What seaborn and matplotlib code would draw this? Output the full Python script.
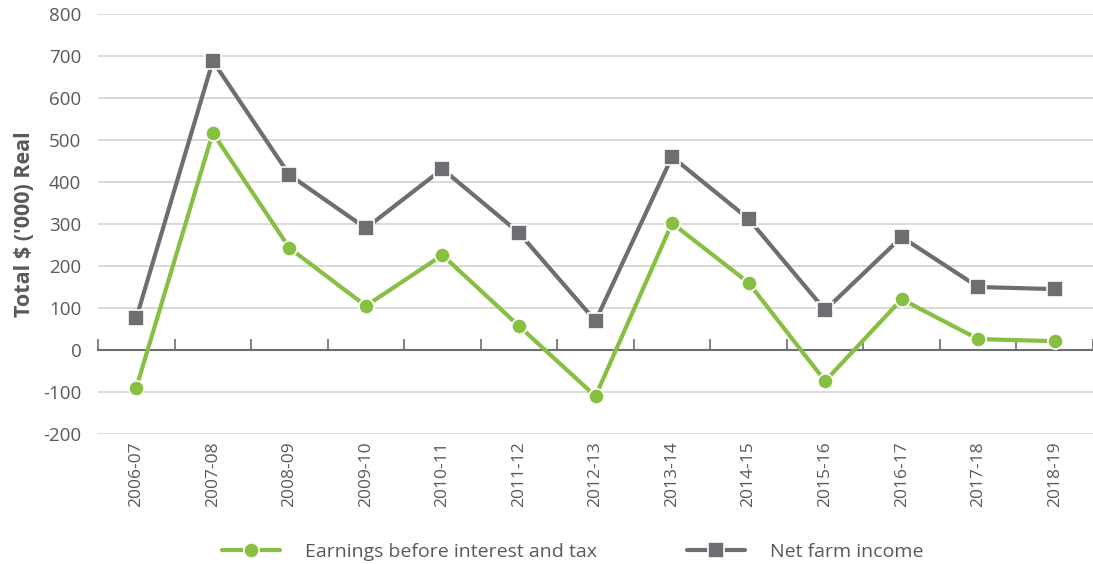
import matplotlib
matplotlib.use("Agg")
import matplotlib.pyplot as plt
import numpy as np
import pandas as pd
import seaborn as sns

# Financial years
years = ["2006-07", "2007-08", "2008-09", "2009-10", "2010-11", "2011-12", "2012-13",
         "2013-14", "2014-15", "2015-16", "2016-17", "2017-18", "2018-19"]

# Total $ ('000) real
ebit = [-90, 517, 243, 105, 226, 57, -110, 302, 160, -74, 121, 26, 21]
net_farm_income = [76, 688, 417, 290, 431, 279, 69, 460, 312, 95, 269, 150, 145]

ebit_label = "Earnings before interest and tax"
nfi_label = "Net farm income"
y_ticks = [-200, -100, 0, 100, 200, 300, 400, 500, 600, 700, 800]

df = pd.concat([
    pd.DataFrame({"year": years, "value": ebit, "series": ebit_label}),
    pd.DataFrame({"year": years, "value": net_farm_income, "series": nfi_label}),
])

sns.set_theme(style="white")
plt.rcParams["font.family"] = ["Open Sans", "DejaVu Sans"]
plt.rcParams["axes.unicode_minus"] = False

GREEN = "#86bf41"
GREY = "#6d6e71"
TEXT = "#58595b"

fig = plt.figure(figsize=(10.93, 5.64), dpi=100)
ax = fig.add_axes([98 / 1093, 1 - 434 / 564, 1 - 98 / 1093, (434 - 14) / 564])

sns.lineplot(
    data=df, x="year", y="value", hue="series", style="series",
    hue_order=[ebit_label, nfi_label], style_order=[ebit_label, nfi_label],
    palette={ebit_label: GREEN, nfi_label: GREY},
    markers={ebit_label: "o", nfi_label: "s"}, dashes=False,
    linewidth=3.0, markersize=11, markeredgecolor="white", markeredgewidth=1.2,
    ax=ax, zorder=3,
)

ax.set_ylim(-200, 800)
ax.set_xlim(-0.5, len(years) - 0.5)
ax.set_yticks(y_ticks)
ax.yaxis.grid(True, color="#d9d9d9", linewidth=1.4, zorder=0)
ax.xaxis.grid(False)
for s in ["top", "right", "left"]:
    ax.spines[s].set_visible(False)

# category axis sits on the zero line with boundary ticks pointing up
ax.spines["bottom"].set_position(("data", 0))
ax.spines["bottom"].set_color(GREY)
ax.spines["bottom"].set_linewidth(1.5)
ax.spines["bottom"].set_zorder(2)
ax.set_xticks(np.arange(len(years)))
ax.set_xticklabels(years, rotation=90, va="top", ha="center")
ax.set_xticks(np.arange(len(years) + 1) - 0.5, minor=True)
ax.tick_params(axis="x", which="major", length=0, pad=66, labelsize=12.5, labelcolor=TEXT)
ax.tick_params(axis="x", which="minor", direction="in", length=8, width=1.2, color=GREY, bottom=True)
ax.tick_params(axis="y", length=0, pad=12, labelsize=13.5, labelcolor=TEXT)

ax.set_xlabel("")
ax.set_ylabel("Total $ ('000) Real", fontsize=15.5, fontweight="bold", color=TEXT, labelpad=6)

handles, labels = ax.get_legend_handles_labels()
ax.get_legend().remove()
fig.legend(handles, labels, loc="center", bbox_to_anchor=(0.524, 0.022), ncol=2,
           frameon=False, fontsize=14, handlelength=3.0, handletextpad=1.3,
           columnspacing=4.6, labelcolor=TEXT)

fig.savefig("out.png", dpi=100)
